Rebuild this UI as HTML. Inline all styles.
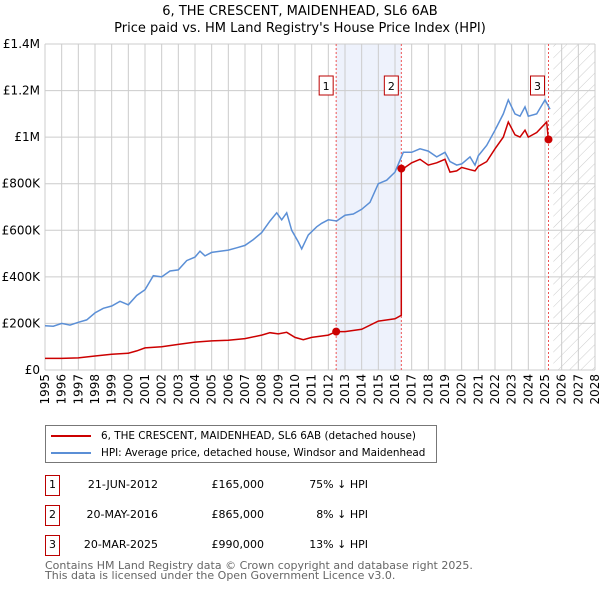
<!DOCTYPE html>
<html><head><meta charset="utf-8"><style>
body{margin:0;background:#fff;font-family:"Liberation Sans","DejaVu Sans",sans-serif;}
#wrap{position:relative;width:600px;height:590px;overflow:hidden;}
svg text{font-family:"DejaVu Sans","Liberation Sans",sans-serif;}
</style></head><body>
<div id="wrap">
<svg id="chart" width="600" height="590"></svg>
</div>
<script>
const hpiYears=[1995,1995.5,1996,1996.5,1997,1997.5,1998,1998.5,1999,1999.5,2000,2000.5,2001,2001.5,2002,2002.5,2003,2003.5,2004,2004.3,2004.6,2005,2005.5,2006,2006.5,2007,2007.5,2008,2008.5,2008.9,2009.2,2009.5,2009.8,2010.2,2010.4,2010.8,2011.3,2011.6,2012,2012.5,2013,2013.5,2014,2014.5,2015,2015.5,2016,2016.5,2017,2017.5,2018,2018.5,2019,2019.3,2019.7,2020,2020.5,2020.8,2021,2021.5,2022,2022.5,2022.8,2023.2,2023.5,2023.8,2024,2024.5,2025,2025.3];
const hpiValues=[190,188,200,193,205,215,245,265,275,295,280,320,345,405,400,425,430,470,485,510,490,505,510,515,525,535,560,590,640,675,645,675,600,550,520,580,615,630,645,640,665,670,690,720,800,815,850,935,935,950,940,915,935,895,880,885,915,880,920,965,1030,1100,1160,1100,1090,1130,1090,1100,1160,1120];
const redYears=[1995,1996,1997,1998,1999,2000,2000.5,2001,2002,2003,2004,2005,2006,2007,2008,2008.5,2009,2009.5,2010,2010.5,2011,2012,2012.47,2013,2014,2015,2016,2016.38,2016.38,2016.5,2017,2017.5,2018,2018.5,2019,2019.3,2019.7,2020,2020.5,2020.8,2021,2021.5,2022,2022.5,2022.8,2023.2,2023.5,2023.8,2024,2024.5,2025.1,2025.2,2025.3];
const redValues=[50,50,52,60,68,72,82,95,100,110,120,125,128,135,150,160,155,162,140,130,140,150,165,165,175,210,220,235,865,865,890,905,880,890,905,850,855,870,860,855,875,895,950,1000,1065,1010,1000,1030,1000,1020,1065,990,985];
const saleYears=[2012.47,2016.38,2025.21];
const saleValues=[165,865,990];
const saleLabels=["1","2","3"];
const yTicks=[0,200,400,600,800,1000,1200,1400];
const yTickLabels=["£0","£200K","£400K","£600K","£800K","£1M","£1.2M","£1.4M"];
const xTicks=[1995,1996,1997,1998,1999,2000,2001,2002,2003,2004,2005,2006,2007,2008,2009,2010,2011,2012,2013,2014,2015,2016,2017,2018,2019,2020,2021,2022,2023,2024,2025,2026,2027,2028];

const NS="http://www.w3.org/2000/svg";
const svg=document.getElementById('chart');
const L=45,R=595,T=44,B=370;
const x=v=>L+(v-1995)/(2028-1995)*(R-L);
const y=v=>B-v/1400*(B-T);
function mk(tag,attrs,parent){const e=document.createElementNS(NS,tag);for(const k in attrs)e.setAttribute(k,attrs[k]);(parent||svg).appendChild(e);return e;}

let t=mk('text',{x:300,y:15,'text-anchor':'middle','font-size':13,fill:'#000'});t.textContent="6, THE CRESCENT, MAIDENHEAD, SL6 6AB";


t=mk('text',{x:300,y:32,'text-anchor':'middle','font-size':13,fill:'#000'});t.textContent="Price paid vs. HM Land Registry's House Price Index (HPI)";



const defs=mk('defs',{});
const pat=mk('pattern',{id:'hatch',width:8,height:8,patternUnits:'userSpaceOnUse',patternTransform:'rotate(45)'},defs);
mk('line',{x1:0,y1:0,x2:0,y2:8,stroke:'#ccc','stroke-width':1},pat);
let band=mk('rect',{x:x(saleYears[0]),y:T,width:x(saleYears[1])-x(saleYears[0]),height:B-T,fill:'#eef2fc'});


let hat=mk('rect',{x:x(2025.5),y:T,width:R-x(2025.5),height:B-T,fill:'url(#hatch)'});



xTicks.forEach(v=>{mk('line',{x1:x(v),y1:T,x2:x(v),y2:B,stroke:'#ccc','stroke-width':1});
 const tl=mk('text',{transform:`translate(${x(v)+4},${B+4}) rotate(-90)`,'text-anchor':'end','font-size':12,fill:'#000'});tl.textContent=v;
 
 });
mk('line',{x1:R,y1:T,x2:R,y2:B,stroke:'#ccc'});
yTicks.forEach((v,i)=>{mk('line',{x1:L,y1:y(v),x2:R,y2:y(v),stroke:'#ccc','stroke-width':1});
 const tl=mk('text',{x:L-5,y:y(v)+4,'text-anchor':'end','font-size':12,fill:'#000'});tl.textContent=yTickLabels[i];
 
 });

saleYears.forEach(v=>{mk('line',{x1:x(v),y1:T,x2:x(v),y2:B,stroke:'#e55','stroke-width':1,'stroke-dasharray':'2,2'});});

const pts=(xs,vs)=>xs.map((a,i)=>x(a).toFixed(1)+','+y(vs[i]).toFixed(1)).join(' ');
let hl=mk('polyline',{points:pts(hpiYears,hpiValues),fill:'none',stroke:'#5b8fd6','stroke-width':1.5});


let rl=mk('polyline',{points:pts(redYears,redValues),fill:'none',stroke:'#cc0000','stroke-width':1.5});



saleYears.forEach((v,i)=>{
 const c=mk('circle',{cx:x(v),cy:y(saleValues[i]),r:4,fill:'#cc0000'});
 
 
 const off=i==2?18:17;
 const g=mk('g',{});
 
 
 mk('rect',{x:x(v)-off,y:76,width:14,height:19,fill:'#fff',stroke:'#b00','stroke-width':1},g);
 const tt=mk('text',{x:x(v)-off+7,y:90,'text-anchor':'middle','font-size':11,fill:'#000'},g);tt.textContent=saleLabels[i];
});
</script>
<div style="position:absolute;left:45px;top:425px;width:390px;height:36px;border:1px solid #777;font-family:'DejaVu Sans','Liberation Sans',sans-serif;font-size:10.4px;">
 <div style="position:absolute;left:5px;top:4px;white-space:nowrap;"><span style="display:inline-block;width:40px;height:2px;background:#cc0000;vertical-align:middle;margin-right:10px"></span>6, THE CRESCENT, MAIDENHEAD, SL6 6AB (detached house)</div>
 <div style="position:absolute;left:5px;top:21px;white-space:nowrap;"><span style="display:inline-block;width:40px;height:2px;background:#5b8fd6;vertical-align:middle;margin-right:10px"></span>HPI: Average price, detached house, Windsor and Maidenhead</div>
</div>
<div style="position:absolute;left:0;top:0;font-family:'DejaVu Sans','Liberation Sans',sans-serif;font-size:11px;">
 <div>
  <div style="position:absolute;left:45px;top:475px;width:13px;height:19px;border:1px solid #b00;text-align:center;line-height:17px">1</div>
  <div style="position:absolute;left:58px;top:478px;width:100px;text-align:right">21-JUN-2012</div>
  <div style="position:absolute;left:180px;top:478px;width:84px;text-align:right">£165,000</div>
  <div style="position:absolute;left:280px;top:478px;width:88px;text-align:right">75% ↓ HPI</div>
 </div>
 <div>
  <div style="position:absolute;left:45px;top:505px;width:13px;height:19px;border:1px solid #b00;text-align:center;line-height:17px">2</div>
  <div style="position:absolute;left:58px;top:508px;width:100px;text-align:right">20-MAY-2016</div>
  <div style="position:absolute;left:180px;top:508px;width:84px;text-align:right">£865,000</div>
  <div style="position:absolute;left:280px;top:508px;width:88px;text-align:right">8% ↓ HPI</div>
 </div>
 <div>
  <div style="position:absolute;left:45px;top:535px;width:13px;height:19px;border:1px solid #b00;text-align:center;line-height:17px">3</div>
  <div style="position:absolute;left:58px;top:538px;width:100px;text-align:right">20-MAR-2025</div>
  <div style="position:absolute;left:180px;top:538px;width:84px;text-align:right">£990,000</div>
  <div style="position:absolute;left:280px;top:538px;width:88px;text-align:right">13% ↓ HPI</div>
 </div>
</div>
<div style="position:absolute;left:45px;top:561px;font-family:'DejaVu Sans','Liberation Sans',sans-serif;font-size:11px;color:#666;line-height:10px;">Contains HM Land Registry data © Crown copyright and database right 2025.<br>This data is licensed under the Open Government Licence v3.0.</div>
</body></html>
